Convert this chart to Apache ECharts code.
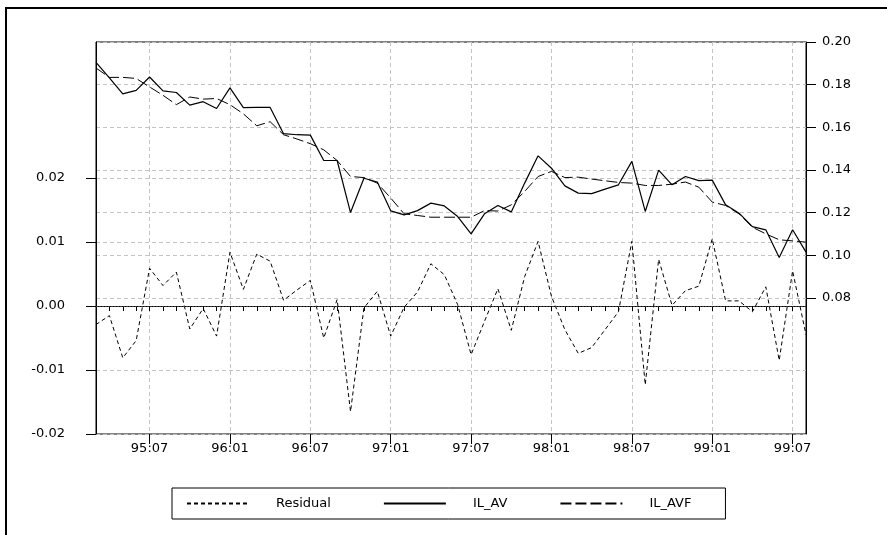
<!DOCTYPE html>
<html>
<head>
<meta charset="utf-8">
<script src="https://cdn.jsdelivr.net/npm/echarts@6/dist/echarts.min.js"></script>
<style>html,body{margin:0;padding:0;background:#fff}#c{width:887px;height:535px}</style>
</head>
<body>
<div id="c"></div>
<script>
var categories = ['95:03','95:04','95:05','95:06','95:07','95:08','95:09','95:10','95:11','95:12',
'96:01','96:02','96:03','96:04','96:05','96:06','96:07','96:08','96:09','96:10','96:11','96:12',
'97:01','97:02','97:03','97:04','97:05','97:06','97:07','97:08','97:09','97:10','97:11','97:12',
'98:01','98:02','98:03','98:04','98:05','98:06','98:07','98:08','98:09','98:10','98:11','98:12',
'99:01','99:02','99:03','99:04','99:05','99:06','99:07','99:08'];
var xTickLabels = ['95:07','96:01','96:07','97:01','97:07','98:01','98:07','99:01','99:07'];
var leftTicks = [-0.02,-0.01,0.00,0.01,0.02];
var rightTicks = [0.08,0.10,0.12,0.14,0.16,0.18,0.20];

var residual = [-0.0029,-0.0015,-0.0081,-0.0054,0.0059,0.0032,0.0053,-0.0036,-0.0004,-0.0047,
0.0084,0.0026,0.0081,0.0070,0.0009,0.0025,0.0040,-0.0050,0.0010,-0.0165,
-0.0003,0.0023,-0.0047,-0.0002,0.0022,0.0066,0.0049,0.0002,-0.0076,-0.0024,
0.0027,-0.0038,0.0046,0.0101,0.0015,-0.0037,-0.0074,-0.0065,-0.0037,-0.0009,
0.0101,-0.0123,0.0073,0.0001,0.0024,0.0031,0.0105,0.0008,0.0008,-0.0009,
0.0030,-0.0085,0.0055,-0.0045];
var ilAv = [0.1904,0.1832,0.1757,0.1773,0.1836,0.1771,0.1763,0.1704,0.1720,0.1688,
0.1785,0.1692,0.1693,0.1693,0.1570,0.1565,0.1563,0.1444,0.1444,0.1200,
0.1361,0.1343,0.1208,0.1189,0.1209,0.1244,0.1231,0.1181,0.1100,0.1194,
0.1233,0.1203,0.1338,0.1466,0.1408,0.1325,0.1291,0.1289,0.1310,0.1330,
0.1440,0.1205,0.1399,0.1330,0.1369,0.1350,0.1352,0.1236,0.1197,0.1134,
0.1119,0.0989,0.1119,0.1014];
var ilAvf = [0.1878,0.1834,0.1834,0.1829,0.1789,0.1750,0.1706,0.1742,0.1732,0.1735,
0.1706,0.1663,0.1607,0.1626,0.1565,0.1545,0.1523,0.1494,0.1444,0.1369,
0.1364,0.1338,0.1268,0.1194,0.1186,0.1178,0.1178,0.1178,0.1178,0.1209,
0.1207,0.1236,0.1299,0.1369,0.1393,0.1364,0.1366,0.1357,0.1349,0.1341,
0.1338,0.1327,0.1327,0.1333,0.1343,0.1319,0.1249,0.1233,0.1194,0.1131,
0.1100,0.1072,0.1067,0.1061];

var FONT = 'DejaVu Sans';
var isMajor = function (idx) { return xTickLabels.indexOf(categories[idx]) >= 0; };
var gridStyle = { color: '#c4c4c4', width: 1, type: [4, 3] };

var chart = echarts.init(document.getElementById('c'), null, { renderer: 'canvas' });
chart.setOption({
  animation: false,
  backgroundColor: '#fff',
  textStyle: { fontFamily: FONT },
  graphic: [{
    type: 'rect', shape: { x: 6, y: 8, width: 1000, height: 700 },
    style: { fill: 'none', stroke: '#000', lineWidth: 2 }, z: 0
  }],
  grid: { left: 96, right: 81, top: 42, bottom: 101, show: true, borderColor: '#000', borderWidth: 1, backgroundColor: 'transparent' },
  legend: {
    left: 172, top: 488,
    itemWidth: 62, itemHeight: 10, itemGap: 52,
    borderColor: '#000', borderWidth: 1,
    padding: [9, 34, 9, 14],
    itemStyle: { opacity: 0 },
    textStyle: { fontFamily: FONT, fontSize: 13, color: '#000', padding: [0, 0, 0, 22] },
    data: ['Residual', 'IL_AV', 'IL_AVF']
  },
  xAxis: [{
    type: 'category', data: categories, boundaryGap: false,
    axisLine: { lineStyle: { color: '#000', width: 1 } },
    axisTick: { show: true, interval: 0, length: 5, inside: false, lineStyle: { color: '#000' } },
    axisLabel: { interval: function (i) { return isMajor(i); }, color: '#000', fontSize: 13, fontFamily: FONT, margin: 8 },
    splitLine: { show: true, interval: function (i) { return isMajor(i); }, lineStyle: gridStyle }
  }, {
    type: 'category', data: categories, boundaryGap: false, position: 'bottom', offset: 0,
    axisLine: { show: false },
    axisTick: { show: true, interval: function (i) { return isMajor(i); }, length: 10, lineStyle: { color: '#000' } },
    axisLabel: { show: false },
    splitLine: { show: false }
  }],
  yAxis: [{
    type: 'value', position: 'left', min: -0.02, max: 0.04125, interval: 0.01,
    axisLine: { show: true, lineStyle: { color: '#000' } },
    axisTick: { show: true, length: 10, customValues: leftTicks, lineStyle: { color: '#000' } },
    axisLabel: { customValues: leftTicks, color: '#000', fontSize: 13, fontFamily: FONT, margin: 31,
      formatter: function (v) { return v.toFixed(2); } },
    splitLine: { show: true, lineStyle: gridStyle }
  }, {
    type: 'value', position: 'right', min: 0.0161, max: 0.20, interval: 0.02,
    axisLine: { show: true, lineStyle: { color: '#000' } },
    axisTick: { show: true, length: 10, customValues: rightTicks, lineStyle: { color: '#000' } },
    axisLabel: { customValues: rightTicks, color: '#000', fontSize: 13, fontFamily: FONT, margin: 16,
      formatter: function (v) { return v.toFixed(2); } },
    splitLine: { show: true, lineStyle: gridStyle }
  }],
  series: [{
    name: 'Residual', type: 'line', xAxisIndex: 0, yAxisIndex: 0, data: residual,
    symbol: 'none', lineStyle: { color: '#000', width: 1, type: [4, 3] }, itemStyle: { color: '#000' },
    markLine: { silent: true, symbol: 'none', label: { show: false },
      lineStyle: { color: '#333', width: 1, type: [2, 1] }, data: [{ yAxis: 0 }] },
    z: 3
  }, {
    name: 'IL_AV', type: 'line', xAxisIndex: 0, yAxisIndex: 1, data: ilAv,
    symbol: 'none', lineStyle: { color: '#000', width: 1.2, type: 'solid' }, itemStyle: { color: '#000' }, z: 3
  }, {
    name: 'IL_AVF', type: 'line', xAxisIndex: 0, yAxisIndex: 1, data: ilAvf,
    symbol: 'none', lineStyle: { color: '#000', width: 1, type: [11, 4] }, itemStyle: { color: '#000' }, z: 3
  }]
});
</script>
</body>
</html>
